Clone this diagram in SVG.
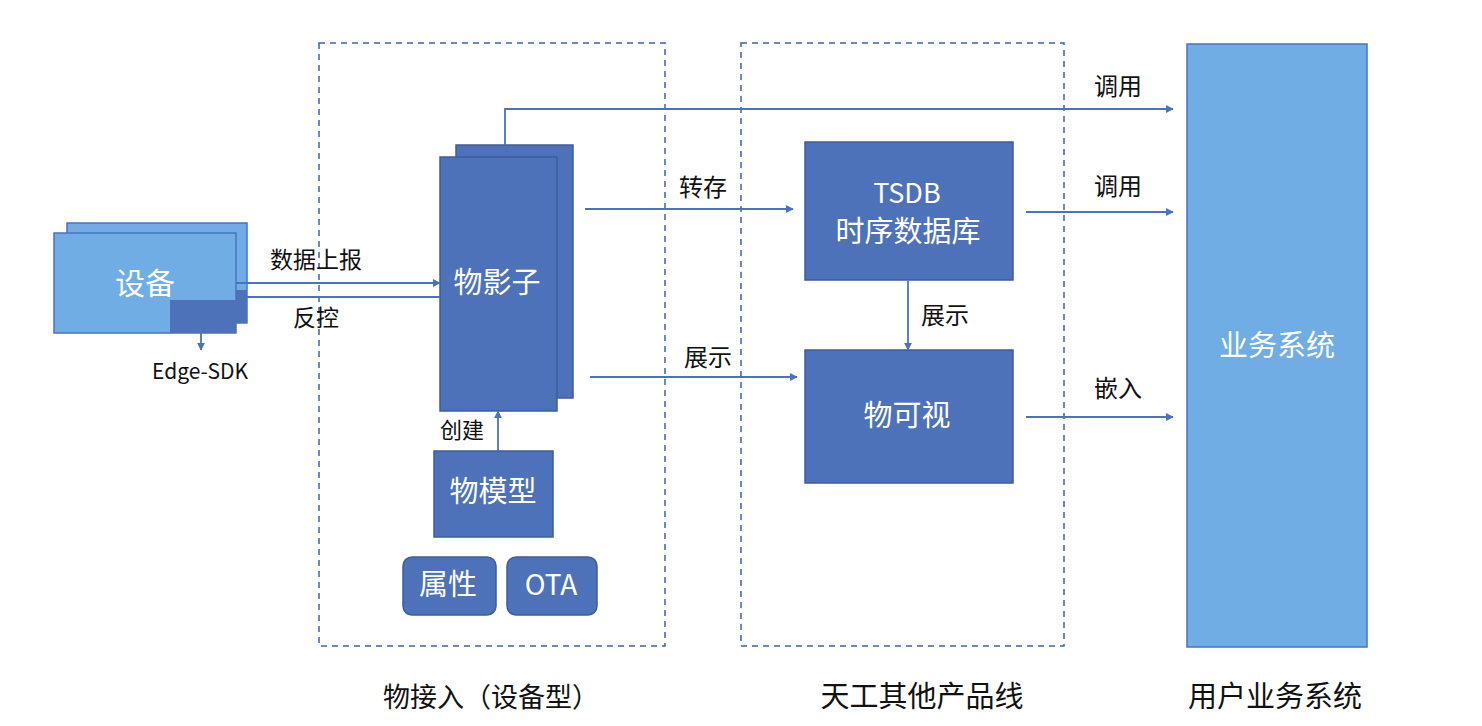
<svg xmlns="http://www.w3.org/2000/svg" width="1482" height="726" viewBox="0 0 1482 726">
<style>
.dash{fill:none;stroke:#3F63A8;stroke-width:1.5;stroke-dasharray:6,5}
.dk{fill:#4E72BA;stroke:#3D5E9E;stroke-width:1.5}
.lt{fill:#6FADE4;stroke:#4A72C0;stroke-width:1.5}
.ln{fill:none;stroke:#4A72C0;stroke-width:1.8}
.wt{fill:#fff;font-family:"Noto Sans CJK SC","Liberation Sans",sans-serif;text-anchor:middle}
.bk{fill:#111;font-family:"Noto Sans CJK SC","Liberation Sans",sans-serif;text-anchor:middle}
</style>
<defs>
<marker id="ah" viewBox="0 0 10 10" refX="9" refY="5" markerWidth="8" markerHeight="8" markerUnits="userSpaceOnUse" orient="auto">
<path d="M0,0 L10,5 L0,10 z" fill="#4A72C0"/>
</marker>
</defs>
<rect width="1482" height="726" fill="#fff"/>
<g id="group-access">
<rect class="dash" x="319" y="43" width="346" height="603"/>
<text class="bk" x="491" y="707" font-size="27">物接入（设备型）</text>
</g>
<g id="group-other">
<rect class="dash" x="741" y="43" width="323" height="603"/>
<text class="bk" x="922" y="707" font-size="29">天工其他产品线</text>
</g>
<g id="device">
<rect class="lt" x="67" y="223" width="180" height="100"/>
<rect x="236" y="290" width="11" height="33" fill="#4E72BA"/>
<rect class="lt" x="54" y="233" width="182" height="100"/>
<rect x="170" y="300" width="66" height="33" fill="#4E72BA"/>
<text class="wt" x="145" y="294" font-size="30">设备</text>
</g>
<g id="edge-sdk">
<text class="bk" x="200" y="379" font-size="21" font-family="Liberation Sans, sans-serif">Edge-SDK</text>
</g>
<g id="shadow">
<rect class="dk" x="456" y="145" width="117" height="253"/>
<rect class="dk" x="440" y="157" width="117" height="254"/>
<text class="wt" x="497" y="293" font-size="29">物影子</text>
</g>
<g id="model">
<rect class="dk" x="434" y="451" width="119" height="86"/>
<text class="wt" x="493" y="502" font-size="29">物模型</text>
</g>
<g id="attr">
<rect class="dk" x="403" y="557" width="93" height="58" rx="9"/>
<text class="wt" x="448" y="595" font-size="29">属性</text>
</g>
<g id="ota">
<rect class="dk" x="507" y="557" width="90" height="58" rx="9"/>
<text class="wt" x="551" y="595" font-size="28">OTA</text>
</g>
<g id="tsdb">
<rect class="dk" x="805" y="142" width="208" height="138"/>
<text class="wt" x="907" y="203" font-size="27">TSDB</text>
<text class="wt" x="908" y="242" font-size="29">时序数据库</text>
</g>
<g id="visual">
<rect class="dk" x="805" y="350" width="208" height="133"/>
<text class="wt" x="907" y="426" font-size="29">物可视</text>
</g>
<g id="business">
<rect class="lt" x="1187" y="44" width="180" height="603"/>
<text class="wt" x="1277" y="356" font-size="29">业务系统</text>
<text class="bk" x="1275" y="707" font-size="29">用户业务系统</text>
</g>
<g id="connectors">
<line class="ln" x1="236" y1="283" x2="440" y2="283" marker-end="url(#ah)"/>
<line class="ln" x1="247" y1="297" x2="440" y2="297"/>
<line class="ln" x1="201" y1="333" x2="201" y2="350" marker-end="url(#ah)"/>
<polyline class="ln" points="505,145 505,109 1173,109" marker-end="url(#ah)"/>
<line class="ln" x1="585" y1="209" x2="793" y2="209" marker-end="url(#ah)"/>
<line class="ln" x1="590" y1="377" x2="797" y2="377" marker-end="url(#ah)"/>
<line class="ln" x1="1026" y1="212" x2="1173" y2="212" marker-end="url(#ah)"/>
<line class="ln" x1="1026" y1="417" x2="1173" y2="417" marker-end="url(#ah)"/>
<line class="ln" x1="908" y1="281" x2="908" y2="350" marker-end="url(#ah)"/>
<line class="ln" x1="498" y1="451" x2="498" y2="411" marker-end="url(#ah)"/>
<text class="bk" x="316" y="268" font-size="23">数据上报</text>
<text class="bk" x="316" y="326" font-size="23">反控</text>
<text class="bk" x="462" y="438" font-size="22">创建</text>
<text class="bk" x="703" y="196" font-size="24">转存</text>
<text class="bk" x="708" y="366" font-size="24">展示</text>
<text class="bk" x="945" y="324" font-size="24">展示</text>
<text class="bk" x="1118" y="95" font-size="24">调用</text>
<text class="bk" x="1118" y="195" font-size="24">调用</text>
<text class="bk" x="1118" y="397" font-size="24">嵌入</text>
</g>
</svg>
